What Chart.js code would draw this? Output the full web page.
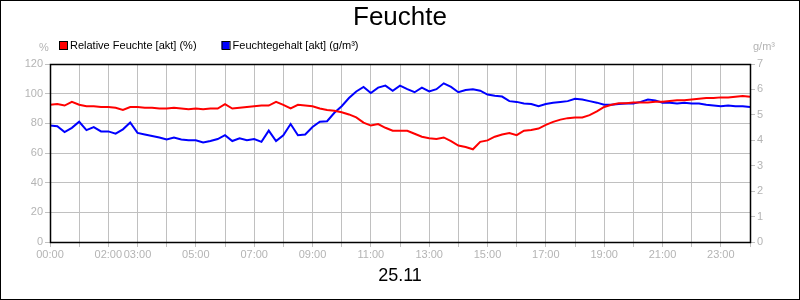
<!DOCTYPE html>
<html>
<head>
<meta charset="utf-8">
<script src="https://cdn.jsdelivr.net/npm/chart.js@4"></script>
<style>
  html, body { margin: 0; padding: 0; background: #fff; }
  #wrap { width: 800px; height: 300px; position: relative; }
</style>
</head>
<body>
<div id="wrap"><canvas id="feuchte-chart"></canvas></div>
<script>
// sample times in hours (15 min steps)
const times = Array.from({ length: 97 }, (_, i) => i / 4);

const hourLabels = ['00:00', '02:00', '03:00', '05:00', '07:00', '09:00', '11:00',
    '13:00', '15:00', '17:00', '19:00', '21:00', '23:00'];

// Relative Feuchte (%)
const relFeuchte = [
    92.5, 93, 92, 94.5,
    92.5, 91.5, 91.5, 91,
    91, 90.5, 89, 91,
    91, 90.5, 90.5, 90,
    90, 90.5, 90, 89.5,
    90, 89.5, 90, 90,
    93, 90, 90.5, 91,
    91.5, 92, 92, 94.5,
    92.5, 90, 92.5, 92,
    91.5, 90, 89, 88.5,
    87.5, 86, 84, 80.5,
    78.5, 79.5, 77, 75,
    75, 75, 73, 71,
    70, 69.5, 70.5, 68,
    65, 64, 62.5, 67.5,
    68.5, 71, 72.5, 73.5,
    72, 75, 75.5, 76.5,
    79, 81, 82.5, 83.5,
    84, 84, 85.5, 88,
    91, 92.5, 93.5, 93.5,
    94, 94, 94, 94.5,
    94.5, 95, 95.5, 95.5,
    96, 96.5, 97, 97,
    97.5, 97.5, 98, 98.5,
    98
];

// Feuchtegehalt (g/m³)
const feuchteGehalt = [
    4.58, 4.55, 4.32, 4.49,
    4.73, 4.40, 4.52, 4.35,
    4.35, 4.26, 4.43, 4.70,
    4.29, 4.23, 4.17, 4.11,
    4.03, 4.11, 4.03, 4.00,
    4.00, 3.91, 3.97, 4.05,
    4.20, 3.97, 4.08, 4.00,
    4.05, 3.94, 4.38, 3.97,
    4.20, 4.64, 4.20, 4.23,
    4.52, 4.73, 4.75, 5.08,
    5.34, 5.66, 5.92, 6.10,
    5.86, 6.07, 6.15, 5.95,
    6.15, 6.01, 5.89, 6.07,
    5.92, 6.01, 6.24, 6.10,
    5.89, 5.98, 6.01, 5.95,
    5.80, 5.75, 5.72, 5.54,
    5.51, 5.45, 5.43, 5.34,
    5.43, 5.48, 5.51, 5.54,
    5.63, 5.60, 5.54, 5.48,
    5.40, 5.40, 5.43, 5.45,
    5.45, 5.51, 5.60, 5.57,
    5.48, 5.48, 5.45, 5.48,
    5.45, 5.45, 5.40, 5.37,
    5.34, 5.37, 5.34, 5.34,
    5.31
];

const seriesNames = ['Relative Feuchte [akt] (%)', 'Feuchtegehalt [akt] (g/m³)'];
const seriesColors = ['#ff0000', '#0000ff'];

const FONT = '"Liberation Sans", Arial, sans-serif';
const GRID = '#c0c0c0';
const TICK_TEXT = '#b4b4b4';

// title, legend, unit labels and outer frame
const decorPlugin = {
    id: 'decor',
    afterDraw(chart) {
        const ctx = chart.ctx;
        const area = chart.chartArea;
        ctx.save();

        ctx.fillStyle = '#000';
        ctx.font = '26px ' + FONT;
        ctx.textAlign = 'center';
        ctx.textBaseline = 'middle';
        ctx.fillText('Feuchte', 400, 18);

        // legend
        ctx.font = '11px ' + FONT;
        ctx.textAlign = 'left';
        let x = 59;
        seriesNames.forEach((name, i) => {
            ctx.fillStyle = seriesColors[i];
            ctx.fillRect(x, 41, 8, 8);
            ctx.strokeStyle = '#000';
            ctx.lineWidth = 1;
            ctx.strokeRect(x + 0.5, 41.5, 8, 8);
            ctx.fillStyle = '#000';
            ctx.fillText(name, x + 11, 45.5);
            x += 11 + ctx.measureText(name).width + 25;
        });

        // unit labels
        ctx.fillStyle = TICK_TEXT;
        ctx.fillText('%', 39, 48);
        ctx.fillText('g/m³', 753, 47);

        // plot frame
        ctx.strokeStyle = '#000';
        ctx.lineWidth = 1.5;
        ctx.strokeRect(Math.round(area.left) + 0.5, Math.round(area.top) + 0.5,
            Math.round(area.right - area.left), Math.round(area.bottom - area.top));

        // outer frame
        ctx.lineWidth = 1;
        ctx.strokeRect(0.5, 0.5, 799, 299);
        ctx.restore();
    }
};

function initializeChart() {
    const canvas = document.getElementById('feuchte-chart');

    const chartConfig = {
        type: 'line',
        data: {
            datasets: [{
                label: seriesNames[0],
                data: times.map((t, i) => ({ x: t, y: relFeuchte[i] })),
                borderColor: seriesColors[0],
                borderWidth: 2,
                pointRadius: 0,
                tension: 0,
                yAxisID: 'y'
            }, {
                label: seriesNames[1],
                data: times.map((t, i) => ({ x: t, y: feuchteGehalt[i] })),
                borderColor: seriesColors[1],
                borderWidth: 2,
                pointRadius: 0,
                tension: 0,
                yAxisID: 'y1'
            }]
        },
        options: {
            responsive: true,
            maintainAspectRatio: false,
            animation: false,
            layout: {
                padding: { top: 64, left: 0, right: 0, bottom: 0 }
            },
            scales: {
                x: {
                    type: 'linear',
                    min: 0,
                    max: 24,
                    afterFit: s => { s.height = 58; },
                    grid: { color: GRID, tickColor: GRID, tickLength: 5 },
                    border: { display: false },
                    ticks: {
                        stepSize: 1,
                        autoSkip: false,
                        maxRotation: 0,
                        padding: 1,
                        color: TICK_TEXT,
                        font: { family: FONT, size: 11 },
                        callback: v => {
                            const lbl = String(v).padStart(2, '0') + ':00';
                            return hourLabels.includes(lbl) ? lbl : '';
                        }
                    },
                    title: {
                        display: true,
                        text: '25.11',
                        color: '#000',
                        font: { family: FONT, size: 18 },
                        padding: { top: 0, bottom: 13 }
                    }
                },
                y: {
                    position: 'left',
                    min: 0,
                    max: 120,
                    afterFit: s => { s.width = 50; },
                    grid: { color: GRID, tickColor: GRID, tickLength: 5 },
                    border: { display: false },
                    ticks: {
                        stepSize: 20,
                        padding: 2,
                        color: TICK_TEXT,
                        font: { family: FONT, size: 11 }
                    }
                },
                y1: {
                    position: 'right',
                    min: 0,
                    max: 7,
                    afterFit: s => { s.width = 50; },
                    grid: { drawOnChartArea: false, tickColor: GRID, tickLength: 5 },
                    border: { display: false },
                    ticks: {
                        stepSize: 1,
                        padding: 2,
                        color: TICK_TEXT,
                        font: { family: FONT, size: 11 }
                    }
                }
            },
            plugins: {
                legend: { display: false },
                tooltip: { enabled: false }
            }
        },
        plugins: [decorPlugin]
    };

    new Chart(canvas, chartConfig);
}

initializeChart();
</script>
</body>
</html>
